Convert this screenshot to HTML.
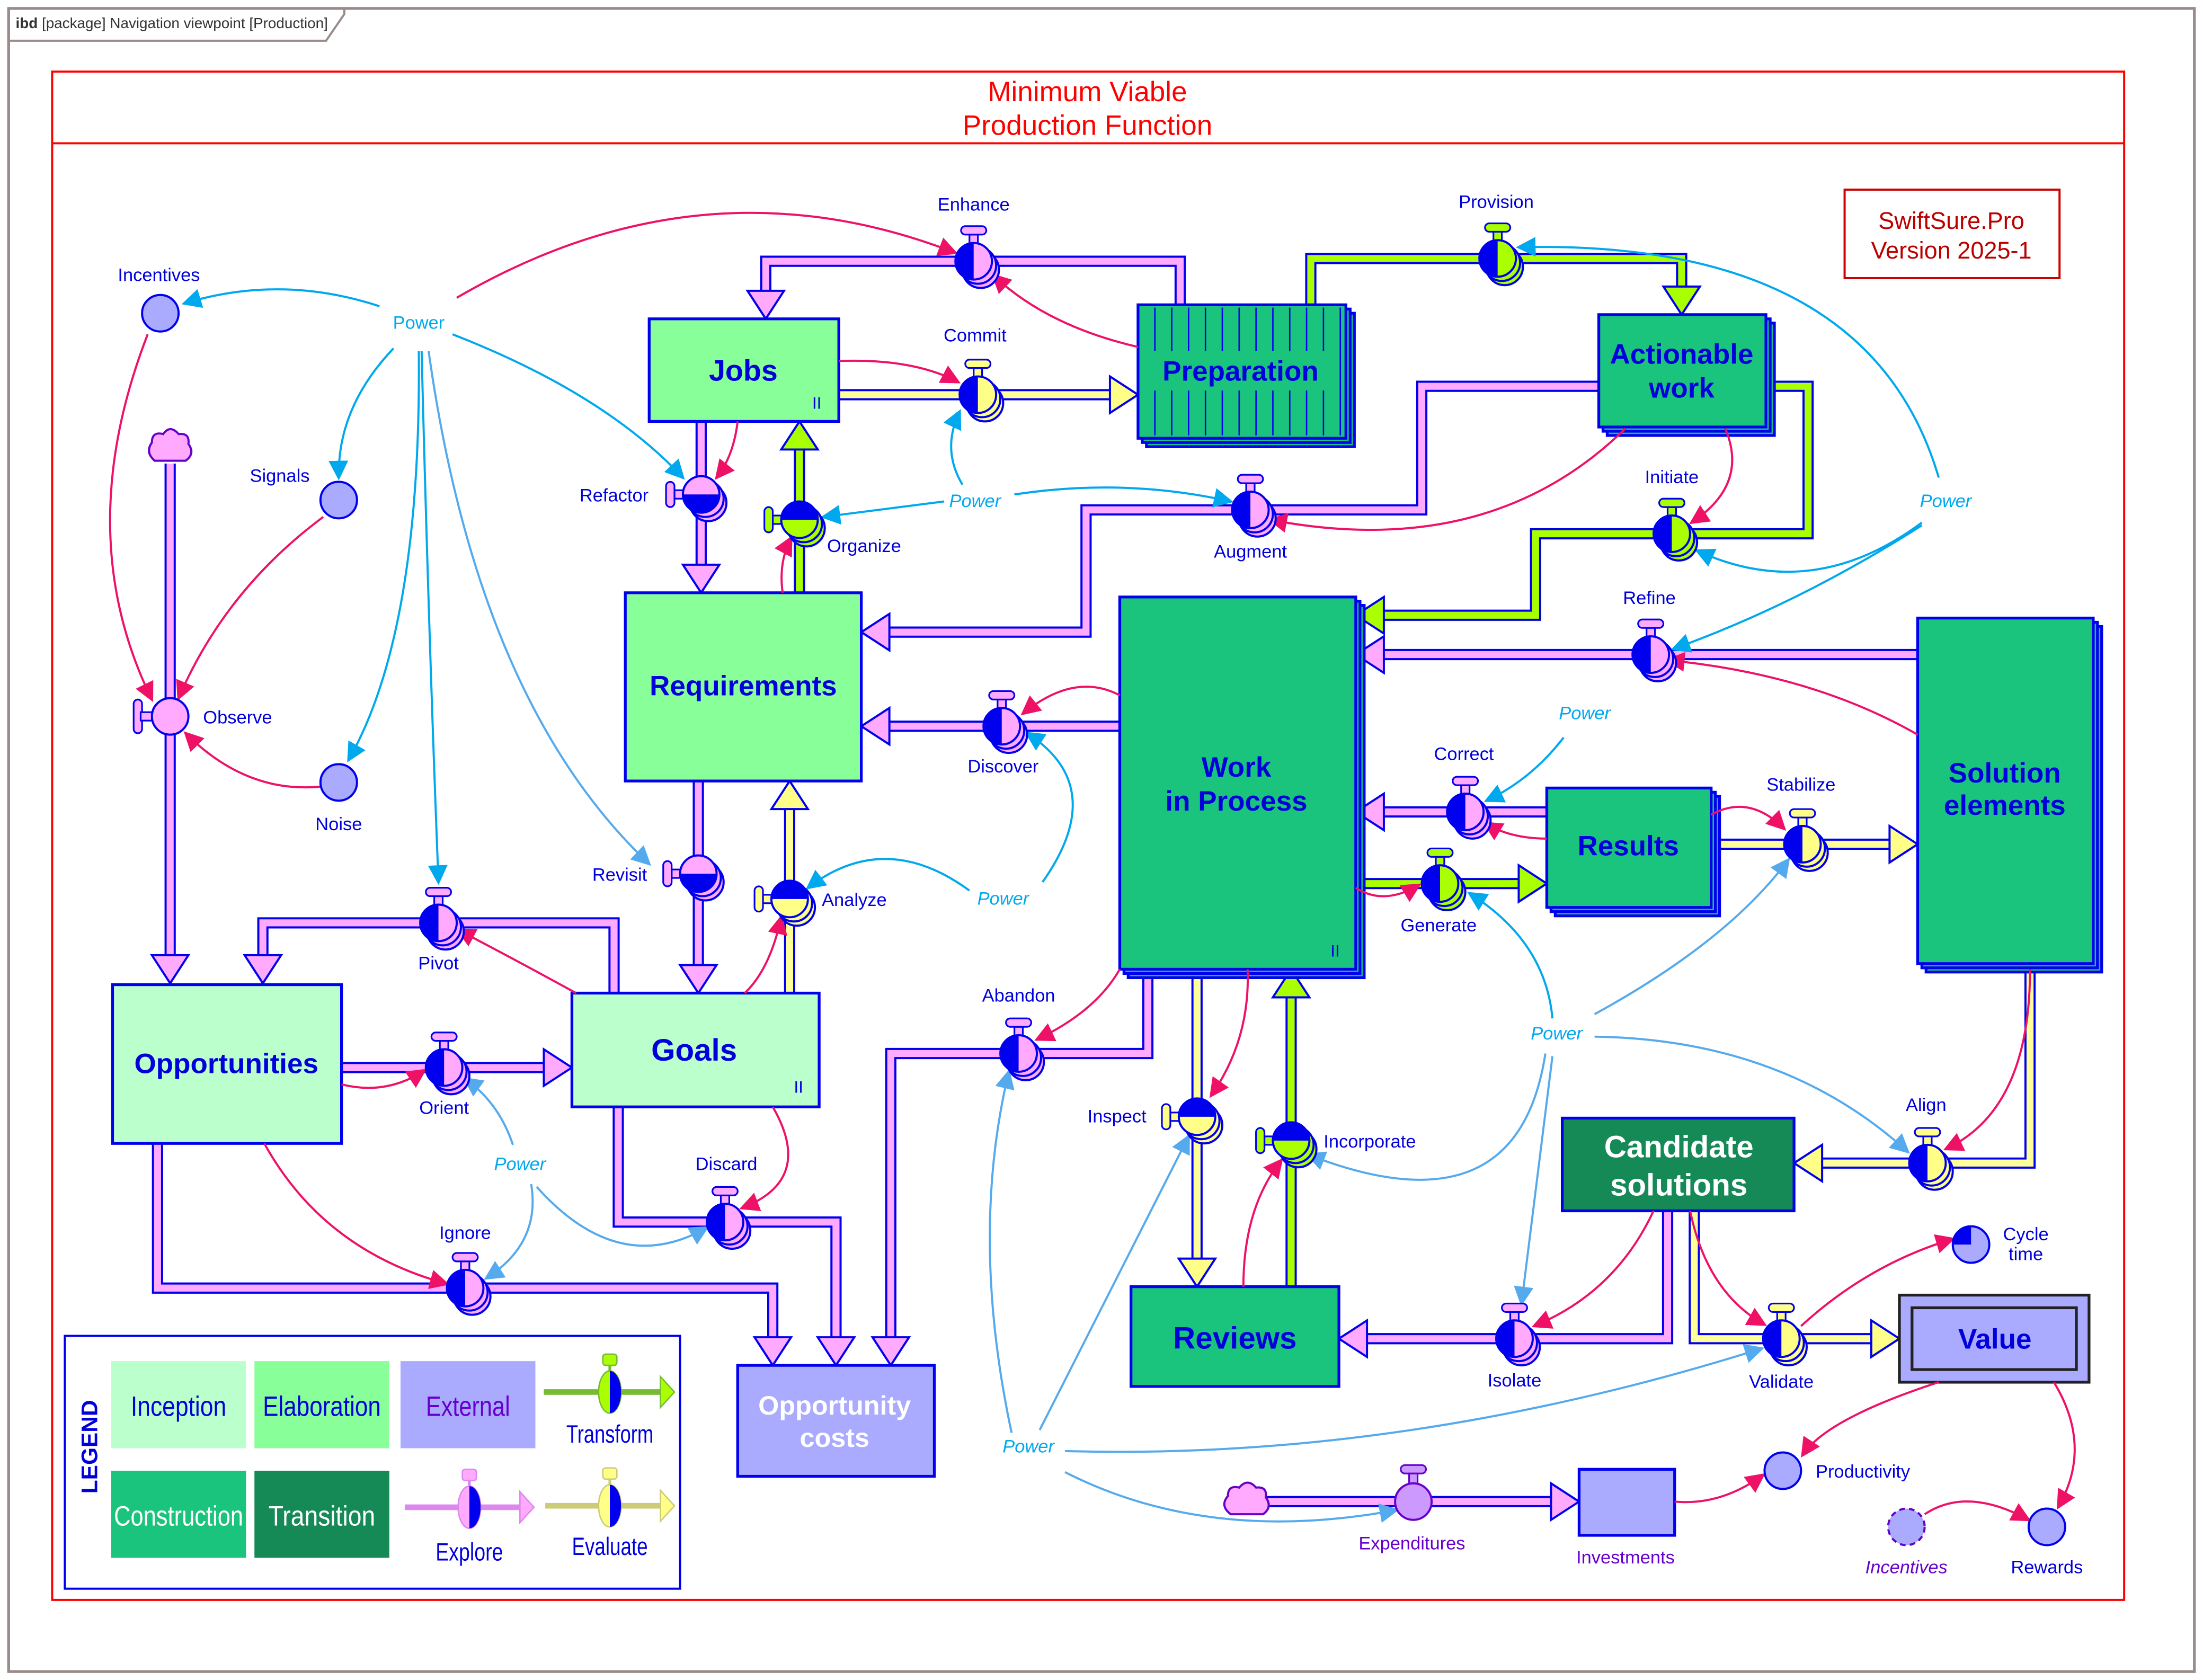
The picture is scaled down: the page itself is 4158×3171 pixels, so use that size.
<!DOCTYPE html>
<html><head><meta charset="utf-8"><style>
html,body{margin:0;padding:0;background:#fff}
svg{display:block}
text{font-family:"Liberation Sans",sans-serif}
</style></head><body>
<svg width="4158" height="3171" viewBox="0 0 1568 1196" xmlns="http://www.w3.org/2000/svg">
<defs>
<marker id="mr" markerUnits="userSpaceOnUse" markerWidth="14" markerHeight="14" viewBox="0 0 14 14" refX="12" refY="7" orient="auto"><path d="M0,0 L14,7 L0,14 Z" fill="#ee1166"/></marker>
<marker id="mc" markerUnits="userSpaceOnUse" markerWidth="14" markerHeight="14" viewBox="0 0 14 14" refX="12" refY="7" orient="auto"><path d="M0,0 L14,7 L0,14 Z" fill="#00a8ee"/></marker>
<marker id="ml" markerUnits="userSpaceOnUse" markerWidth="14" markerHeight="14" viewBox="0 0 14 14" refX="12" refY="7" orient="auto"><path d="M0,0 L14,7 L0,14 Z" fill="#55aaee"/></marker>
<g id="vP">
 <circle cx="5" cy="6" r="13" fill="#ffaaff" stroke="#0000ee" stroke-width="1.5"/>
 <circle cx="3" cy="3" r="13" fill="#ffaaff" stroke="#0000ee" stroke-width="1.5"/>
 <rect x="-3" y="-19" width="6" height="7" fill="#ffaaff" stroke="#0000ee" stroke-width="1.2"/>
 <rect x="-9" y="-25" width="18" height="6" rx="3" fill="#ffaaff" stroke="#0000ee" stroke-width="1.2"/>
 <circle r="13" fill="#ffaaff" stroke="#0000ee" stroke-width="1.5"/>
 <path d="M0,-13 A13,13 0 0 0 0,13 Z" fill="#0000ee"/>
</g>
<g id="vY">
 <circle cx="5" cy="6" r="13" fill="#ffff88" stroke="#0000ee" stroke-width="1.5"/>
 <circle cx="3" cy="3" r="13" fill="#ffff88" stroke="#0000ee" stroke-width="1.5"/>
 <rect x="-3" y="-19" width="6" height="7" fill="#ffff88" stroke="#0000ee" stroke-width="1.2"/>
 <rect x="-9" y="-25" width="18" height="6" rx="3" fill="#ffff88" stroke="#0000ee" stroke-width="1.2"/>
 <circle r="13" fill="#ffff88" stroke="#0000ee" stroke-width="1.5"/>
 <path d="M0,-13 A13,13 0 0 0 0,13 Z" fill="#0000ee"/>
</g>
<g id="vG">
 <circle cx="5" cy="6" r="13" fill="#aaff00" stroke="#0000ee" stroke-width="1.5"/>
 <circle cx="3" cy="3" r="13" fill="#aaff00" stroke="#0000ee" stroke-width="1.5"/>
 <rect x="-3" y="-19" width="6" height="7" fill="#aaff00" stroke="#0000ee" stroke-width="1.2"/>
 <rect x="-9" y="-25" width="18" height="6" rx="3" fill="#aaff00" stroke="#0000ee" stroke-width="1.2"/>
 <circle r="13" fill="#aaff00" stroke="#0000ee" stroke-width="1.5"/>
 <path d="M0,-13 A13,13 0 0 0 0,13 Z" fill="#0000ee"/>
</g>
<g id="vPL">
 <circle cx="5" cy="6" r="13" fill="#ffaaff" stroke="#0000ee" stroke-width="1.5"/>
 <circle cx="3" cy="3" r="13" fill="#ffaaff" stroke="#0000ee" stroke-width="1.5"/>
 <rect x="-19" y="-3" width="7" height="6" fill="#ffaaff" stroke="#0000ee" stroke-width="1.2"/>
 <rect x="-25" y="-9" width="6" height="18" rx="3" fill="#ffaaff" stroke="#0000ee" stroke-width="1.2"/>
 <circle r="13" fill="#ffaaff" stroke="#0000ee" stroke-width="1.5"/>
 <path d="M-13,0 A13,13 0 0 0 13,0 Z" fill="#0000ee"/>
</g>
<g id="vYL">
 <circle cx="5" cy="6" r="13" fill="#ffff88" stroke="#0000ee" stroke-width="1.5"/>
 <circle cx="3" cy="3" r="13" fill="#ffff88" stroke="#0000ee" stroke-width="1.5"/>
 <rect x="-19" y="-3" width="7" height="6" fill="#ffff88" stroke="#0000ee" stroke-width="1.2"/>
 <rect x="-25" y="-9" width="6" height="18" rx="3" fill="#ffff88" stroke="#0000ee" stroke-width="1.2"/>
 <circle r="13" fill="#ffff88" stroke="#0000ee" stroke-width="1.5"/>
 <path d="M-13,0 A13,13 0 0 1 13,0 Z" fill="#0000ee"/>
</g>
<g id="vGL">
 <circle cx="5" cy="6" r="13" fill="#aaff00" stroke="#0000ee" stroke-width="1.5"/>
 <circle cx="3" cy="3" r="13" fill="#aaff00" stroke="#0000ee" stroke-width="1.5"/>
 <rect x="-19" y="-3" width="7" height="6" fill="#aaff00" stroke="#0000ee" stroke-width="1.2"/>
 <rect x="-25" y="-9" width="6" height="18" rx="3" fill="#aaff00" stroke="#0000ee" stroke-width="1.2"/>
 <circle r="13" fill="#aaff00" stroke="#0000ee" stroke-width="1.5"/>
 <path d="M-13,0 A13,13 0 0 1 13,0 Z" fill="#0000ee"/>
</g>
</defs>

<rect x="6" y="6" width="1556" height="1184" fill="none" stroke="#9a8a8a" stroke-width="2"/>
<path d="M6,29 H232 L245,10 V6" fill="none" stroke="#9a8a8a" stroke-width="1.5"/>
<text x="11" y="20" font-size="10.5" fill="#333"><tspan font-weight="bold">ibd</tspan> [package] Navigation viewpoint [Production]</text>

<rect x="37" y="51" width="1475" height="1088" fill="none" stroke="#ff0000" stroke-width="1.5"/>
<line x1="37" y1="102" x2="1512" y2="102" stroke="#ff0000" stroke-width="1.5"/>
<text x="774" y="72" font-size="20" fill="#ff0000" text-anchor="middle">Minimum Viable</text>
<text x="774" y="96" font-size="20" fill="#ff0000" text-anchor="middle">Production Function</text>

<rect x="1313" y="135" width="153" height="63" fill="#fff" stroke="#cc0000" stroke-width="1.5"/>
<text x="1389" y="163" font-size="17" fill="#bb0000" text-anchor="middle">SwiftSure.Pro</text>
<text x="1389" y="184" font-size="17" fill="#bb0000" text-anchor="middle">Version 2025-1</text>

<g fill="none" stroke-linejoin="miter" stroke-linecap="butt">
<g stroke="#0000ee" stroke-width="8">
<path d="M121,330 V680"/><path d="M437,707 V657 H187 V680"/><path d="M243,760 H387"/>
<path d="M112,814 V917 H550 V952"/><path d="M440,788 V870 H595 V952"/><path d="M817,690 V750 H634 V952"/>
<path d="M840,217 V186 H545 V207"/><path d="M499,300 V402"/><path d="M1138,275 H1012 V363 H773 V450 H633"/>
<path d="M797,517 H633"/><path d="M497,556 V687"/><path d="M1365,466 H985"/><path d="M1101,578 H985"/>
<path d="M1187,862 V953 H973"/><path d="M888,1069 H1104"/>
<path d="M597,281 H790"/><path d="M562,707 V576"/><path d="M1218,601 H1345"/><path d="M1445,686 V828 H1297"/>
<path d="M852,690 V896"/><path d="M1206,862 V953 H1332"/>
<path d="M569,422 V320"/><path d="M933,217 V184 H1197 V204"/><path d="M1257,275 H1287 V380 H1093 V438 H985"/>
<path d="M965,629 H1081"/><path d="M919,916 V710"/>
</g>
<g stroke="#ffaaff" stroke-width="5">
<path d="M121,330 V680"/><path d="M437,707 V657 H187 V680"/><path d="M243,760 H387"/>
<path d="M112,814 V917 H550 V952"/><path d="M440,788 V870 H595 V952"/><path d="M817,690 V750 H634 V952"/>
<path d="M840,217 V186 H545 V207"/><path d="M499,300 V402"/><path d="M1138,275 H1012 V363 H773 V450 H633"/>
<path d="M797,517 H633"/><path d="M497,556 V687"/><path d="M1365,466 H985"/><path d="M1101,578 H985"/>
<path d="M1187,862 V953 H973"/><path d="M888,1069 H1104"/>
</g>
<g stroke="#ffff99" stroke-width="5">
<path d="M597,281 H790"/><path d="M562,707 V576"/><path d="M1218,601 H1345"/><path d="M1445,686 V828 H1297"/>
<path d="M852,690 V896"/><path d="M1206,862 V953 H1332"/>
</g>
<g stroke="#aaff00" stroke-width="5">
<path d="M569,422 V320"/><path d="M933,217 V184 H1197 V204"/><path d="M1257,275 H1287 V380 H1093 V438 H985"/>
<path d="M965,629 H1081"/><path d="M919,916 V710"/>
</g>
</g>
<g stroke="#0000ee" stroke-width="1.5">
<g fill="#ffaaff">
<polygon points="108,680 134,680 121,700"/><polygon points="174,680 200,680 187,700"/>
<polygon points="387,747 387,773 407,760"/>
<polygon points="537,952 563,952 550,972"/><polygon points="582,952 608,952 595,972"/><polygon points="621,952 647,952 634,972"/>
<polygon points="532,207 558,207 545,227"/><polygon points="486,402 512,402 499,422"/>
<polygon points="633,437 633,463 613,450"/><polygon points="633,504 633,530 613,517"/>
<polygon points="484,687 510,687 497,707"/>
<polygon points="985,453 985,479 965,466"/><polygon points="985,565 985,591 965,578"/>
<polygon points="973,940 973,966 953,953"/><polygon points="1104,1056 1104,1082 1124,1069"/>
</g>
<g fill="#ffff88">
<polygon points="790,268 790,294 810,281"/><polygon points="549,576 575,576 562,556"/>
<polygon points="1345,588 1345,614 1365,601"/><polygon points="1297,815 1297,841 1277,828"/>
<polygon points="839,896 865,896 852,916"/><polygon points="1332,940 1332,966 1352,953"/>
</g>
<g fill="#aaff00">
<polygon points="556,320 582,320 569,300"/><polygon points="1184,204 1210,204 1197,224"/>
<polygon points="985,425 985,451 965,438"/><polygon points="1081,616 1081,642 1101,629"/>
<polygon points="906,710 932,710 919,690"/>
</g>
</g>

<g stroke="#0000ee" stroke-width="2">
<rect x="462" y="227" width="135" height="73" fill="#88ff99"/>
<rect x="816" y="223" width="148" height="95" fill="#1bc47d"/>
<rect x="813" y="220" width="148" height="95" fill="#1bc47d"/>
<rect x="810" y="217" width="148" height="95" fill="#1bc47d"/>
<rect x="1144" y="230" width="119" height="80" fill="#1bc47d"/>
<rect x="1141" y="227" width="119" height="80" fill="#1bc47d"/>
<rect x="1138" y="224" width="119" height="80" fill="#1bc47d"/>
<rect x="445" y="422" width="168" height="134" fill="#88ff99"/>
<rect x="803" y="431" width="168" height="265" fill="#1bc47d"/>
<rect x="800" y="428" width="168" height="265" fill="#1bc47d"/>
<rect x="797" y="425" width="168" height="265" fill="#1bc47d"/>
<rect x="1371" y="446" width="125" height="246" fill="#1bc47d"/>
<rect x="1368" y="443" width="125" height="246" fill="#1bc47d"/>
<rect x="1365" y="440" width="125" height="246" fill="#1bc47d"/>
<rect x="1107" y="567" width="117" height="85" fill="#1bc47d"/>
<rect x="1104" y="564" width="117" height="85" fill="#1bc47d"/>
<rect x="1101" y="561" width="117" height="85" fill="#1bc47d"/>
<rect x="80" y="701" width="163" height="113" fill="#bbffcc"/>
<rect x="407" y="707" width="176" height="81" fill="#bbffcc"/>
<rect x="1112" y="796" width="165" height="66" fill="#158a57"/>
<rect x="805" y="916" width="148" height="71" fill="#1bc47d"/>
<rect x="525" y="972" width="140" height="79" fill="#aaaaff"/>
<rect x="1124" y="1046" width="68" height="47" fill="#aaaaff"/>
</g>
<g stroke="#0000ee" stroke-width="1">
<line x1="822" y1="219" x2="822" y2="250"/><line x1="834" y1="219" x2="834" y2="250"/><line x1="846" y1="219" x2="846" y2="250"/><line x1="858" y1="219" x2="858" y2="250"/><line x1="870" y1="219" x2="870" y2="250"/><line x1="882" y1="219" x2="882" y2="250"/><line x1="894" y1="219" x2="894" y2="250"/><line x1="906" y1="219" x2="906" y2="250"/><line x1="918" y1="219" x2="918" y2="250"/><line x1="930" y1="219" x2="930" y2="250"/><line x1="942" y1="219" x2="942" y2="250"/><line x1="954" y1="219" x2="954" y2="310"/>
<line x1="822" y1="278" x2="822" y2="310"/><line x1="834" y1="278" x2="834" y2="310"/><line x1="846" y1="278" x2="846" y2="310"/><line x1="858" y1="278" x2="858" y2="310"/><line x1="870" y1="278" x2="870" y2="310"/><line x1="882" y1="278" x2="882" y2="310"/><line x1="894" y1="278" x2="894" y2="310"/><line x1="906" y1="278" x2="906" y2="310"/><line x1="918" y1="278" x2="918" y2="310"/><line x1="930" y1="278" x2="930" y2="310"/><line x1="942" y1="278" x2="942" y2="310"/>
</g>
<rect x="1352" y="922" width="135" height="62" fill="#aaaaff" stroke="#222" stroke-width="2"/>
<rect x="1361" y="931" width="117" height="44" fill="#aaaaff" stroke="#222" stroke-width="2"/>

<g font-weight="bold" fill="#0000dd" text-anchor="middle">
<text x="529" y="271" font-size="21">Jobs</text>
<text x="883" y="271" font-size="20">Preparation</text>
<text x="1197" y="259" font-size="20">Actionable</text>
<text x="1197" y="283" font-size="20">work</text>
<text x="529" y="495" font-size="20">Requirements</text>
<text x="880" y="553" font-size="20">Work</text>
<text x="880" y="577" font-size="20">in Process</text>
<text x="1427" y="557" font-size="20">Solution</text>
<text x="1427" y="580" font-size="20">elements</text>
<text x="1159" y="609" font-size="20">Results</text>
<text x="161" y="764" font-size="20">Opportunities</text>
<text x="494" y="755" font-size="22">Goals</text>
<text x="879" y="960" font-size="22">Reviews</text>
<text x="1420" y="960" font-size="20">Value</text>
<text x="1195" y="824" font-size="22" fill="#fff">Candidate</text>
<text x="1195" y="851" font-size="22" fill="#fff">solutions</text>
<text x="594" y="1007" font-size="19" fill="#fff">Opportunity</text>
<text x="594" y="1030" font-size="19" fill="#fff">costs</text>
</g>
<g font-size="12" fill="#0000dd"><text x="578" y="291">II</text><text x="947" y="681">II</text><text x="565" y="778">II</text></g>

<g fill="none" stroke="#ee1166" stroke-width="1.5" marker-end="url(#mr)">
<path d="M325,212 Q500,110 680,180"/>
<path d="M105,238 Q50,380 108,498"/>
<path d="M230,368 Q160,420 127,497"/>
<path d="M228,560 Q175,565 132,522"/>
<path d="M810,247 Q745,232 707,196"/>
<path d="M597,257 Q650,255 682,272"/>
<path d="M525,300 Q522,325 510,340"/>
<path d="M557,422 Q554,400 563,383"/>
<path d="M1157,305 Q1060,400 904,370"/>
<path d="M1228,305 Q1245,345 1204,372"/>
<path d="M1365,523 Q1290,480 1187,470"/>
<path d="M797,495 Q765,478 728,508"/>
<path d="M1101,597 Q1075,597 1057,586"/>
<path d="M965,632 Q985,645 1010,630"/>
<path d="M1218,580 Q1245,565 1270,590"/>
<path d="M530,707 Q548,690 556,653"/>
<path d="M410,707 Q370,685 326,662"/>
<path d="M243,772 Q275,780 302,762"/>
<path d="M188,814 Q230,890 318,914"/>
<path d="M550,788 Q580,840 528,860"/>
<path d="M797,690 Q780,720 738,740"/>
<path d="M888,690 Q890,740 862,780"/>
<path d="M885,916 Q885,860 912,826"/>
<path d="M1177,862 Q1150,920 1092,944"/>
<path d="M1203,862 Q1215,920 1256,943"/>
<path d="M1282,944 Q1330,900 1390,882"/>
<path d="M1445,690 Q1445,790 1385,818"/>
<path d="M1380,984 Q1300,1010 1283,1036"/>
<path d="M1462,984 Q1490,1030 1465,1073"/>
<path d="M1192,1069 Q1225,1072 1255,1050"/>
<path d="M1370,1078 Q1400,1058 1444,1082"/>
</g>
<g fill="none" stroke="#00a8ee" stroke-width="1.5" marker-end="url(#mc)">
<path d="M270,218 Q200,195 131,216"/>
<path d="M280,248 Q240,290 241,340"/>
<path d="M298,250 Q300,450 248,541"/>
<path d="M300,250 Q305,450 312,628"/>
<path d="M322,238 Q430,280 486,340"/>
<path d="M672,357 L586,368"/>
<path d="M685,345 Q670,320 683,293"/>
<path d="M722,352 Q800,340 876,357"/>
<path d="M1380,340 Q1330,170 1081,176"/>
<path d="M1368,372 Q1290,430 1208,392"/>
<path d="M1368,374 Q1280,430 1191,462"/>
<path d="M1113,525 Q1090,555 1058,570"/>
<path d="M742,628 Q790,560 731,522"/>
<path d="M690,634 Q630,590 575,632"/>
<path d="M1105,725 Q1100,670 1046,636"/>
</g>
<g fill="none" stroke="#55aaee" stroke-width="1.5" marker-end="url(#ml)">
<path d="M305,250 Q340,500 462,615"/>
<path d="M1135,722 Q1230,670 1273,612"/>
<path d="M1135,738 Q1270,740 1358,820"/>
<path d="M1100,750 Q1080,880 931,822"/>
<path d="M1105,752 L1083,928"/>
<path d="M365,815 Q355,785 331,768"/>
<path d="M378,843 Q385,885 346,910"/>
<path d="M382,845 Q440,910 503,874"/>
<path d="M720,1020 Q690,880 718,763"/>
<path d="M740,1018 L846,809"/>
<path d="M758,1033 Q1000,1040 1254,960"/>
<path d="M758,1048 Q860,1100 994,1075"/>
</g>

<use href="#vP" x="693" y="186"/>
<use href="#vY" x="696" y="281"/>
<use href="#vG" x="1066" y="184"/>
<use href="#vPL" x="499" y="352"/>
<use href="#vGL" x="569" y="370"/>
<use href="#vP" x="890" y="363"/>
<use href="#vG" x="1190" y="380"/>
<use href="#vP" x="1175" y="466"/>
<use href="#vP" x="713" y="517"/>
<use href="#vP" x="1043" y="578"/>
<use href="#vG" x="1025" y="629"/>
<use href="#vY" x="1283" y="601"/>
<use href="#vPL" x="497" y="622"/>
<use href="#vYL" x="562" y="640"/>
<use href="#vP" x="312" y="657"/>
<use href="#vP" x="316" y="760"/>
<use href="#vP" x="725" y="750"/>
<use href="#vY" x="1372" y="828"/>
<use href="#vYL" x="852" y="795"/>
<use href="#vGL" x="919" y="812"/>
<use href="#vP" x="516" y="870"/>
<use href="#vP" x="331" y="917"/>
<use href="#vP" x="1078" y="953"/>
<use href="#vY" x="1268" y="953"/>
<rect x="95" y="498" width="6" height="24" rx="3" fill="#ffaaff" stroke="#0000ee" stroke-width="1.2"/>
<rect x="100" y="507" width="8" height="6" fill="#ffaaff" stroke="#0000ee" stroke-width="1.2"/>
<circle cx="121" cy="510" r="13" fill="#ffaaff" stroke="#0000ee" stroke-width="1.5"/>
<rect x="997" y="1043" width="18" height="6" rx="3" fill="#cc99ff" stroke="#6600cc" stroke-width="1.2"/>
<rect x="1003" y="1049" width="6" height="8" fill="#cc99ff" stroke="#6600cc" stroke-width="1.2"/>
<circle cx="1006" cy="1069" r="13" fill="#cc99ff" stroke="#6600cc" stroke-width="1.5"/>
<g fill="#ffaaff" stroke="#6600cc" stroke-width="1.5">
<path d="M110,328 Q103,322 108,315 Q108,307 116,309 Q121,302 127,309 Q135,308 134,316 Q139,323 132,328 Z"/>
<path d="M876,1078 Q868,1072 874,1065 Q874,1057 882,1059 Q888,1052 894,1059 Q902,1058 901,1066 Q906,1073 899,1078 Z"/>
</g>
<g fill="#aaaaff" stroke="#0000ee" stroke-width="1.5">
<circle cx="114" cy="223" r="13"/><circle cx="241" cy="356" r="13"/><circle cx="241" cy="557" r="13"/>
<circle cx="1269" cy="1047" r="13"/><circle cx="1457" cy="1087" r="13"/>
</g>
<circle cx="1357" cy="1087" r="13" fill="#aaaaff" stroke="#6600cc" stroke-width="1.5" stroke-dasharray="4,3"/>
<circle cx="1403" cy="886" r="13" fill="#aaaaff" stroke="#0000ee" stroke-width="1.5"/>
<path d="M1403,886 L1403,873 A13,13 0 0 0 1390,886 Z" fill="#0000ee"/>

<g font-size="13" fill="#0000dd" text-anchor="middle">
<text x="693" y="150">Enhance</text>
<text x="694" y="243">Commit</text>
<text x="1065" y="148">Provision</text>
<text x="437" y="357">Refactor</text>
<text x="615" y="393">Organize</text>
<text x="890" y="397">Augment</text>
<text x="1190" y="344">Initiate</text>
<text x="1174" y="430">Refine</text>
<text x="714" y="550">Discover</text>
<text x="1042" y="541">Correct</text>
<text x="1024" y="663">Generate</text>
<text x="1282" y="563">Stabilize</text>
<text x="441" y="627">Revisit</text>
<text x="608" y="645">Analyze</text>
<text x="312" y="690">Pivot</text>
<text x="316" y="793">Orient</text>
<text x="725" y="713">Abandon</text>
<text x="1371" y="791">Align</text>
<text x="795" y="799">Inspect</text>
<text x="975" y="817">Incorporate</text>
<text x="517" y="833">Discard</text>
<text x="331" y="882">Ignore</text>
<text x="1078" y="987">Isolate</text>
<text x="1268" y="988">Validate</text>
<text x="169" y="515">Observe</text>
<text x="113" y="200">Incentives</text>
<text x="199" y="343">Signals</text>
<text x="241" y="591">Noise</text>
<text x="1326" y="1052">Productivity</text>
<text x="1457" y="1120">Rewards</text>
<text x="1442" y="883">Cycle</text>
<text x="1442" y="897">time</text>
<text x="1005" y="1103" fill="#6600cc">Expenditures</text>
<text x="1157" y="1113" fill="#6600cc">Investments</text>
<text x="1357" y="1120" fill="#6600cc" font-style="italic">Incentives</text>
</g>
<g font-size="13" fill="#00a8ee" text-anchor="middle" font-style="italic">
<text x="298" y="234" font-style="normal">Power</text>
<text x="694" y="361">Power</text>
<text x="1385" y="361">Power</text>
<text x="1128" y="512">Power</text>
<text x="714" y="644">Power</text>
<text x="1108" y="740">Power</text>
<text x="370" y="833">Power</text>
<text x="732" y="1034">Power</text>
</g>

<rect x="46" y="951" width="438" height="180" fill="#fff" stroke="#0000ee" stroke-width="1.5"/>
<text transform="translate(69,1030) rotate(-90)" font-size="16" font-weight="bold" fill="#0000dd" text-anchor="middle">LEGEND</text>
<rect x="79" y="969" width="96" height="62" fill="#bbffcc"/>
<rect x="181" y="969" width="96" height="62" fill="#88ff99"/>
<rect x="285" y="969" width="96" height="62" fill="#aaaaff"/>
<rect x="79" y="1047" width="96" height="62" fill="#1bc47d"/>
<rect x="181" y="1047" width="96" height="62" fill="#158a57"/>
<g font-size="20" text-anchor="middle">
<text x="127" y="1008" fill="#0000dd" textLength="68" lengthAdjust="spacingAndGlyphs">Inception</text>
<text x="229" y="1008" fill="#0000dd" textLength="84" lengthAdjust="spacingAndGlyphs">Elaboration</text>
<text x="333" y="1008" fill="#6600cc" textLength="60" lengthAdjust="spacingAndGlyphs">External</text>
<text x="127" y="1086" fill="#fff" textLength="92" lengthAdjust="spacingAndGlyphs">Construction</text>
<text x="229" y="1086" fill="#fff" textLength="76" lengthAdjust="spacingAndGlyphs">Transition</text>
<text x="434" y="1027" fill="#0000dd" font-size="18" textLength="62" lengthAdjust="spacingAndGlyphs">Transform</text>
<text x="334" y="1111" fill="#0000dd" font-size="18" textLength="48" lengthAdjust="spacingAndGlyphs">Explore</text>
<text x="434" y="1107" fill="#0000dd" font-size="18" textLength="54" lengthAdjust="spacingAndGlyphs">Evaluate</text>
</g>
<g stroke-width="1">
<line x1="387" y1="991" x2="470" y2="991" stroke="#77bb33" stroke-width="4"/>
<polygon points="470,980 470,1002 480,991" fill="#aaff00" stroke="#77bb33"/>
<line x1="434" y1="970" x2="434" y2="977" stroke="#77bb33" stroke-width="2"/>
<rect x="429" y="964" width="10" height="8" rx="2" fill="#aaff00" stroke="#77bb33"/>
<ellipse cx="434" cy="991" rx="8" ry="15" fill="#aaff00" stroke="#77bb33"/>
<path d="M434,976 A8,15 0 0 1 434,1006 Z" fill="#0000ee"/>
<line x1="288" y1="1073" x2="370" y2="1073" stroke="#dd88ee" stroke-width="4"/>
<polygon points="370,1062 370,1084 380,1073" fill="#ffaaff" stroke="#dd88ee"/>
<line x1="334" y1="1052" x2="334" y2="1059" stroke="#dd88ee" stroke-width="2"/>
<rect x="329" y="1046" width="10" height="8" rx="2" fill="#ffaaff" stroke="#dd88ee"/>
<ellipse cx="334" cy="1073" rx="8" ry="15" fill="#ffaaff" stroke="#dd88ee"/>
<path d="M334,1058 A8,15 0 0 1 334,1088 Z" fill="#0000ee"/>
<line x1="388" y1="1072" x2="470" y2="1072" stroke="#cccc77" stroke-width="4"/>
<polygon points="470,1061 470,1083 480,1072" fill="#ffff88" stroke="#cccc77"/>
<line x1="434" y1="1051" x2="434" y2="1058" stroke="#cccc77" stroke-width="2"/>
<rect x="429" y="1045" width="10" height="8" rx="2" fill="#ffff88" stroke="#cccc77"/>
<ellipse cx="434" cy="1072" rx="8" ry="15" fill="#ffff88" stroke="#cccc77"/>
<path d="M434,1057 A8,15 0 0 1 434,1087 Z" fill="#0000ee"/>
</g>
</svg>
</body></html>
